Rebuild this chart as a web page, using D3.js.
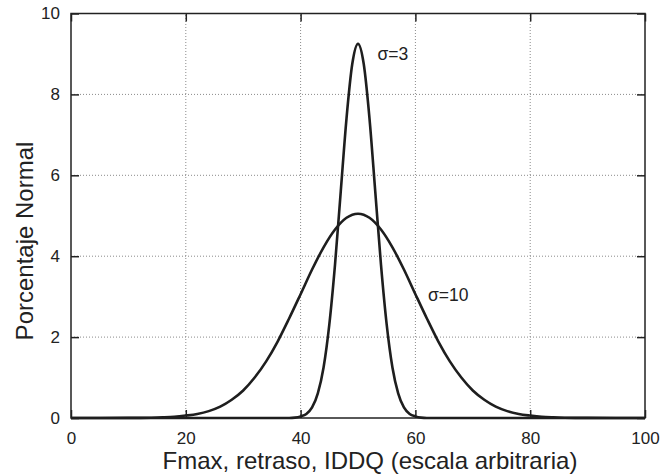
<!DOCTYPE html>
<html>
<head>
<meta charset="utf-8">
<script src="https://cdn.jsdelivr.net/npm/d3@7"></script>
<style>
  body { margin: 0; background: #fff; }
  text { font-family: "Liberation Sans", Arial, sans-serif; fill: #222; }
</style>
</head>
<body>
<div id="chart"></div>
<script>
// Normal distribution curves, sigma = 3 and sigma = 10

const xTicks = [0, 20, 40, 60, 80, 100];
const yTicks = [0, 2, 4, 6, 8, 10];

// sigma = 3
const narrowX = [0, 36, 37, 38, 39, 40, 41, 42, 43, 44, 45, 46, 47, 48, 49, 50,
                 51, 52, 53, 54, 55, 56, 57, 58, 59, 60, 61, 62, 63, 64, 100];
const narrowY = [0, 0, 0, 0, 0.01, 0.04, 0.10, 0.26, 0.61, 1.25, 2.31, 3.80, 5.61, 7.41, 8.75, 9.25,
                 8.75, 7.41, 5.61, 3.80, 2.31, 1.25, 0.61, 0.26, 0.10, 0.04, 0.01, 0, 0, 0, 0];

// sigma = 10
const wideX = [0, 10, 14, 16, 18, 20, 22, 24, 26, 28, 30, 32, 34, 36, 38, 40, 42, 44, 46, 48, 50,
               52, 54, 56, 58, 60, 62, 64, 66, 68, 70, 72, 74, 76, 78, 80, 82, 84, 86, 90, 100];
const wideY = [0, 0.002, 0.008, 0.016, 0.03, 0.06, 0.10, 0.17, 0.28, 0.45, 0.68, 1.00, 1.40, 1.89, 2.46, 3.06, 3.67, 4.22, 4.66, 4.95, 5.05,
               4.95, 4.66, 4.22, 3.67, 3.06, 2.46, 1.89, 1.40, 1.00, 0.68, 0.45, 0.28, 0.17, 0.10, 0.06, 0.03, 0.016, 0.008, 0.002, 0];

const width = 662, height = 474;
const margin = { top: 13.5, right: 17, bottom: 56, left: 71 };

const svg = d3.select("#chart")
  .append("svg")
  .attr("width", width)
  .attr("height", height)
  .attr("viewBox", [0, 0, width, height]);

const x = d3.scaleLinear().domain([0, 100]).range([margin.left, width - margin.right]);
const y = d3.scaleLinear().domain([0, 10]).range([height - margin.bottom, margin.top]);

// dotted grid
svg.append("g")
  .selectAll("line")
  .data(xTicks.slice(1, -1))
  .join("line")
  .attr("x1", d => x(d)).attr("x2", d => x(d))
  .attr("y1", y(0)).attr("y2", y(10))
  .attr("stroke", "#8a8a8a")
  .attr("stroke-width", 1)
  .attr("stroke-dasharray", "1,2");

svg.append("g")
  .selectAll("line")
  .data(yTicks.slice(1, -1))
  .join("line")
  .attr("x1", x(0)).attr("x2", x(100))
  .attr("y1", d => y(d)).attr("y2", d => y(d))
  .attr("stroke", "#8a8a8a")
  .attr("stroke-width", 1)
  .attr("stroke-dasharray", "1,2");

// axes, ticks pointing inside on all four sides
const tickLen = 8;
const axisStyle = g => {
  g.select(".domain").remove();
  g.selectAll(".tick line").attr("stroke", "#222").attr("stroke-width", 1.5);
  g.selectAll(".tick text").attr("font-size", 17).attr("fill", "#222")
    .attr("font-family", "Liberation Sans, Arial, sans-serif");
};

svg.append("g")
  .attr("transform", `translate(0,${y(0)})`)
  .call(d3.axisBottom(x).tickValues(xTicks).tickSize(-tickLen).tickPadding(14))
  .call(axisStyle);

svg.append("g")
  .attr("transform", `translate(0,${y(10)})`)
  .call(d3.axisTop(x).tickValues(xTicks).tickSize(-tickLen).tickFormat(""))
  .call(axisStyle);

svg.append("g")
  .attr("transform", `translate(${x(0)},0)`)
  .call(d3.axisLeft(y).tickValues(yTicks).tickSize(-tickLen).tickPadding(11))
  .call(axisStyle);

svg.append("g")
  .attr("transform", `translate(${x(100)},0)`)
  .call(d3.axisRight(y).tickValues(yTicks).tickSize(-tickLen).tickFormat(""))
  .call(axisStyle);

// frame
svg.append("rect")
  .attr("x", x(0)).attr("y", y(10))
  .attr("width", x(100) - x(0)).attr("height", y(0) - y(10))
  .attr("fill", "none")
  .attr("stroke", "#222")
  .attr("stroke-width", 1.5);

const line = d3.line()
  .x(d => x(d[0]))
  .y(d => y(d[1]))
  .curve(d3.curveMonotoneX);

const series = [
  d3.zip(wideX, wideY),
  d3.zip(narrowX, narrowY)
];

svg.append("g")
  .selectAll("path")
  .data(series)
  .join("path")
  .attr("d", line)
  .attr("fill", "none")
  .attr("stroke", "#1e1e1e")
  .attr("stroke-width", 2.6)
  .attr("stroke-linejoin", "round");

// curve labels
svg.append("text")
  .attr("x", x(53.4)).attr("y", y(8.85))
  .attr("font-size", 17.5)
  .text("σ=3");

svg.append("text")
  .attr("x", x(62.2)).attr("y", y(2.9))
  .attr("font-size", 17.5)
  .text("σ=10");

// axis titles
svg.append("text")
  .attr("x", 370).attr("y", 469)
  .attr("text-anchor", "middle")
  .attr("font-size", 24)
  .text("Fmax, retraso, IDDQ (escala arbitraria)");

svg.append("text")
  .attr("transform", "translate(33,241) rotate(-90)")
  .attr("text-anchor", "middle")
  .attr("font-size", 24)
  .text("Porcentaje Normal");
</script>
</body>
</html>
